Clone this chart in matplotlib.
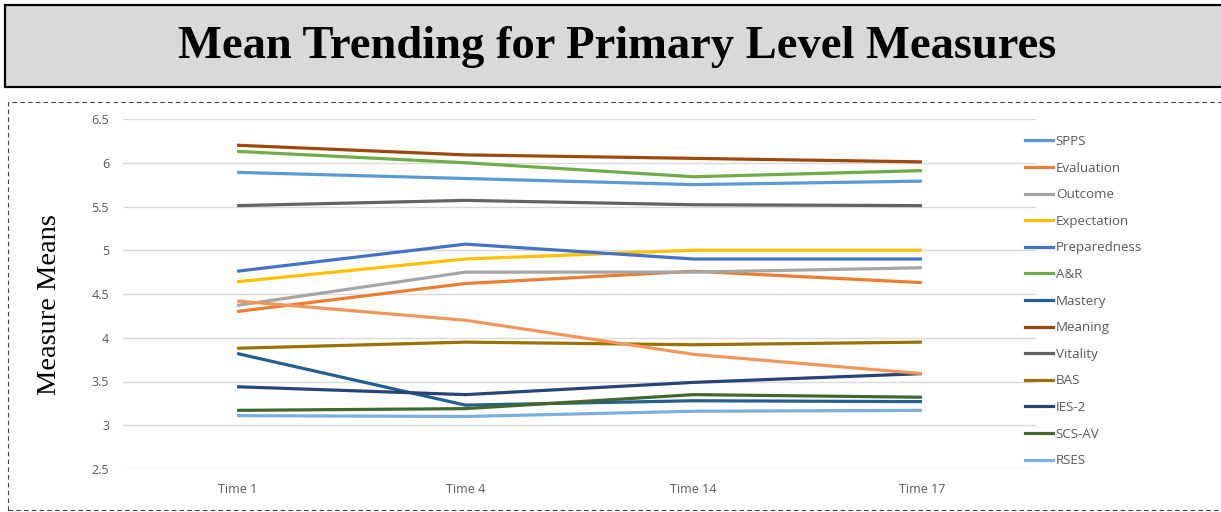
import matplotlib
matplotlib.use("Agg")
import matplotlib.pyplot as plt
from matplotlib.patches import Rectangle
from matplotlib.lines import Line2D

times = ["Time 1", "Time 4", "Time 14", "Time 17"]
series_names = ["SPPS", "Evaluation", "Outcome", "Expectation", "Preparedness", "A&R",
                "Mastery", "Meaning", "Vitality", "BAS", "IES-2", "SCS-AV", "RSES", ""]
spps = [5.89, 5.82, 5.75, 5.79]
evaluation = [4.30, 4.62, 4.76, 4.63]
outcome = [4.37, 4.75, 4.75, 4.80]
expectation = [4.64, 4.90, 5.00, 5.00]
preparedness = [4.76, 5.07, 4.90, 4.90]
a_and_r = [6.13, 6.00, 5.84, 5.91]
mastery = [3.82, 3.23, 3.28, 3.27]
meaning = [6.20, 6.09, 6.05, 6.01]
vitality = [5.51, 5.57, 5.52, 5.51]
bas = [3.88, 3.95, 3.92, 3.95]
ies2 = [3.44, 3.35, 3.49, 3.59]
scs_av = [3.17, 3.19, 3.35, 3.32]
rses = [3.11, 3.10, 3.16, 3.17]
unnamed = [4.42, 4.20, 3.81, 3.59]
values = [spps, evaluation, outcome, expectation, preparedness, a_and_r, mastery,
          meaning, vitality, bas, ies2, scs_av, rses, unnamed]
colors = ["#5B9BD5", "#ED7D31", "#A5A5A5", "#FFC000", "#4472C4", "#70AD47",
          "#255E91", "#9E480E", "#636363", "#997300", "#264478", "#43682B",
          "#7CAFDD", "#F1975A"]

W, H = 1221, 512
fig = plt.figure(figsize=(W / 100, H / 100), dpi=100)

# Title box
fig.patches.append(Rectangle((5 / W, 1 - 87 / H), 1.0, 82 / H, transform=fig.transFigure,
                             facecolor="#D9D9D9", edgecolor="black", linewidth=1.6,
                             zorder=0))
fig.text(617 / W, 1 - 47 / H, "Mean Trending for Primary Level Measures",
         ha="center", va="center", fontsize=33.5, fontweight="bold",
         family="Liberation Serif")

# Dashed frame
fig.patches.append(Rectangle((8 / W, 1 - 510 / H), 1.0, 408 / H, transform=fig.transFigure,
                             facecolor="none", edgecolor="#404040", linewidth=0.8,
                             linestyle=(0, (4, 3)), zorder=0))

ax = fig.add_axes([123 / W, 1 - 469 / H, (1036 - 123) / W, (469 - 119) / H])
x = list(range(len(times)))
for name, vals, c in zip(series_names, values, colors):
    ax.plot(x, vals, color=c, linewidth=2.3, label=name if name else "_nolegend_",
            solid_capstyle="butt")

ax.set_xlim(-0.5, 3.5)
ax.set_ylim(2.5, 6.5)
ax.set_yticks([2.5, 3, 3.5, 4, 4.5, 5, 5.5, 6, 6.5])
ax.set_yticklabels(["2.5", "3", "3.5", "4", "4.5", "5", "5.5", "6", "6.5"])
ax.set_xticks(x)
ax.set_xticklabels(times)
ax.grid(axis="y", color="#D9D9D9", linewidth=1)
ax.set_axisbelow(True)
for s in ax.spines.values():
    s.set_visible(False)
ax.tick_params(axis="both", length=0, colors="#595959", labelsize=9)
ax.tick_params(axis="y", pad=10)
ax.tick_params(axis="x", pad=10)
for lab in ax.get_xticklabels() + ax.get_yticklabels():
    lab.set_family("Open Sans")
ax.patch.set_alpha(0)

fig.text(50 / W, 1 - 305 / H, "Measure Means", rotation=90, ha="center", va="center",
         fontsize=20.5, family="Liberation Serif")

handles = [Line2D([], [], color=c, linewidth=2.3) for c in colors[:13]]
leg = fig.legend(handles, series_names[:13], loc="upper left",
                 bbox_to_anchor=(1025 / W, 1 - 135 / H), frameon=False,
                 borderpad=0, borderaxespad=0, handlelength=2.1, handletextpad=0.2,
                 labelspacing=1.02, prop={"family": "Open Sans", "size": 9.6})
for t in leg.get_texts():
    t.set_color("#595959")

fig.savefig("out.png", dpi=100)
